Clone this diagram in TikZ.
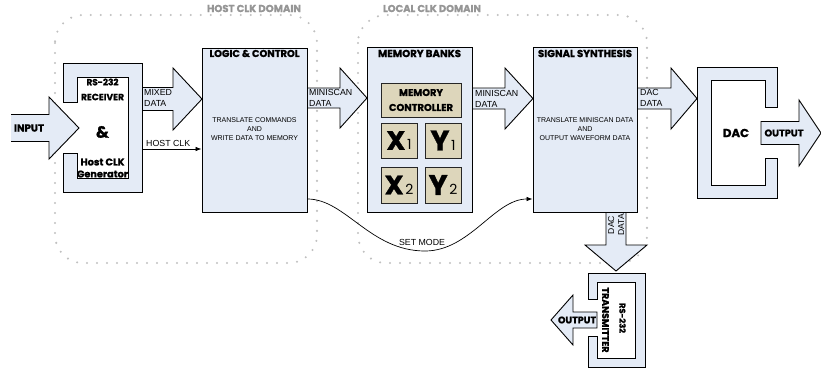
\documentclass[tikz,border=0pt]{standalone}
\usepackage{graphicx}
\usepackage{fontspec}
\setmainfont{Liberation Sans}
\newfontfamily\geofont{Poppins}[BoldFeatures={FakeBold=1.2}]
\usetikzlibrary{arrows.meta}

\definecolor{boxblue}{RGB}{228,235,246}
\definecolor{boxtan}{RGB}{221,214,187}
\definecolor{dotgray}{RGB}{192,192,192}
\definecolor{domgray}{RGB}{150,150,150}

% heavy geometric lettering set to a given width (in pt)
\newcommand\fw[2]{\resizebox{#1pt}{!}{\geofont\bfseries\fontsize{10}{12}\selectfont #2}}
% bank letter with its index
\newcommand\bank[2]{\fw{19}{#1}\,{\geofont\fontsize{14}{14}\selectfont #2}}

% right-pointing block arrow: tail x, neck x, tip x, mid y, body half, head half
\newcommand\harrow[6]{%
  \filldraw[frame] (#1,{#4-#5}) -- (#2,{#4-#5}) -- (#2,{#4-#6}) -- (#3,#4)
    -- (#2,{#4+#6}) -- (#2,{#4+#5}) -- (#1,{#4+#5});}

\begin{document}
\begin{tikzpicture}[x=1pt,y=-1pt,
  frame/.style={draw=black,line width=0.9pt,fill=boxblue,line join=miter},
  block/.style={draw=black,line width=0.9pt,fill=boxblue,inner sep=0pt},
  bankbox/.style={draw=black!85,line width=0.9pt,fill=boxtan,inner sep=0pt},
  clkdomain/.style={draw=dotgray,line width=2.3pt,line cap=round,
    dash pattern=on 0pt off 10pt,rounded corners=28pt},
  domlabel/.style={text=domgray,inner sep=0pt},
  geo/.style={inner sep=0pt,align=center},
  bodytxt/.style={align=center,inner sep=0pt,font=\fontsize{7}{9}\selectfont},
  lbl/.style={align=left,inner sep=0pt,font=\fontsize{8.8}{11}\selectfont},
  conn/.style={line width=0.7pt,-{Latex[length=6pt,width=4.5pt]}},
]
\useasboundingbox (0,0) rectangle (821,369);

% clock domains
\draw[clkdomain] (55,15) rectangle (317,263);
\draw[clkdomain] (358,15) rectangle (647,263);
\node[domlabel] (hostdom) at (254,8.5) {\fw{94}{HOST CLK DOMAIN}};
\node[domlabel] (localdom) at (432,8.5) {\fw{98}{LOCAL CLK DOMAIN}};

% block arrows between stages
\filldraw[frame] (11,114.5) -- (49,114.5) -- (49,97) -- (79,128) -- (49,159) -- (49,141.5) -- (11,141.5);
\harrow{142}{173}{202}{99}{11.5}{31}
\harrow{307}{340}{367}{98}{10}{30}
\harrow{472}{505}{533}{98.5}{10.5}{30.5}
\harrow{637}{671}{697}{98.5}{10.5}{30.5}
\filldraw[frame] (606,212) -- (606,245) -- (585,245) -- (616,271) -- (647,245) -- (626,245) -- (626,212);

% RS-232 receiver
\filldraw[frame] (77,102) -- (63,102) -- (63,63) -- (142,63) -- (142,192) -- (63,192)
  -- (63,153) -- (77,153) -- (77,178) -- (128,178) -- (128,77) -- (77,77) -- cycle;
\node[inner sep=0pt,minimum width=79pt,minimum height=129pt] (recv) at (102.5,127.5) {};
\node[geo] (rxa) at (102.5,82) {\fw{32}{RS-232}};
\node[geo] (rxb) at (102.5,97) {\fw{43}{RECEIVER}};
\node[geo] (rxc) at (102.5,132) {\fw{13}{\&}};
\node[geo] (rxd) at (102.5,162) {\fw{44}{Host CLK}};
\node[geo] (rxe) at (102.5,174) {\fw{51}{Generator}};
\node[geo] (inlbl) at (29,128) {\fw{30}{INPUT}};

% processing stages
\node[block,minimum width=105pt,minimum height=164pt] (logic) at (254.5,130) {};
\node[geo] (logict) at (254.5,53.5) {\fw{90}{LOGIC \& CONTROL}};
\node[bodytxt] (logicb) at (254.5,129) {TRANSLATE COMMANDS\\AND\\WRITE DATA TO MEMORY};

\node[block,minimum width=105pt,minimum height=165pt] (mem) at (419.5,129.5) {};
\node[geo] (memt) at (419.5,53.5) {\fw{83}{MEMORY BANKS}};
\node[bankbox,minimum width=80pt,minimum height=34pt,align=center] (mctl) at (421,100) {\fw{44}{MEMORY}\\[3pt]\fw{64}{CONTROLLER}};
\node[bankbox,minimum width=36pt,minimum height=35pt] (x1) at (399,140.5) {\bank{X}{1}};
\node[bankbox,minimum width=36pt,minimum height=35pt] (y1) at (443,140.5) {\bank{Y}{1}};
\node[bankbox,minimum width=36pt,minimum height=36pt] (x2) at (399,185) {\bank{X}{2}};
\node[bankbox,minimum width=36pt,minimum height=36pt] (y2) at (443,185) {\bank{Y}{2}};

\node[block,minimum width=104pt,minimum height=165pt] (sig) at (585,129.5) {};
\node[geo] (sigt) at (585,53.5) {\fw{94}{SIGNAL SYNTHESIS}};
\node[bodytxt] (sigb) at (585,129) {TRANSLATE MINISCAN DATA\\AND\\OUTPUT WAVEFORM DATA};

% DAC
\filldraw[frame] (765,107) -- (777,107) -- (777,67) -- (697,67) -- (697,198) -- (777,198)
  -- (777,158) -- (765,158) -- (765,185) -- (711,185) -- (711,80) -- (765,80) -- cycle;
\node[geo] (dac) at (736,133) {\fw{26}{DAC}};
\filldraw[frame] (761,121.5) -- (799,121.5) -- (799,100) -- (821,133) -- (799,166) -- (799,144.5) -- (761,144.5) -- cycle;
\node[geo] (dacout) at (784,133) {\fw{39}{OUTPUT}};

% RS-232 transmitter
\filldraw[frame] (597,299) -- (588,299) -- (588,273) -- (645,273) -- (645,367) -- (588,367)
  -- (588,336) -- (597,336) -- (597,358) -- (635,358) -- (635,282) -- (597,282) -- cycle;
\node[geo,rotate=-90] (txa) at (622.5,318) {\fw{30}{RS-232}};
\node[geo,rotate=-90] (txb) at (605.5,320) {\fw{65}{TRANSMITTER}};
\filldraw[frame] (597,312) -- (573,312) -- (573,295) -- (551,320) -- (573,345) -- (573,328) -- (597,328) -- cycle;
\node[geo] (txout) at (577,320) {\fw{38}{OUTPUT}};

% arrow labels
\node[lbl,anchor=west] (mixl) at (144,98) {MIXED\\DATA};
\node[lbl,anchor=west] (ms1l) at (309,97.5) {MINISCAN\\DATA};
\node[lbl,anchor=west] (ms2l) at (475,98.5) {MINISCAN\\DATA};
\node[lbl,anchor=west] (dacl) at (640,97.5) {DAC\\DATA};
\node[lbl,rotate=90,align=center,font=\fontsize{8.6}{10}\selectfont] (dacvl) at (616,225) {DAC\\DATA};

% control connections
\coordinate (hcy) at (0,149);
\coordinate (smy) at (0,199);
\coordinate (smlow) at (425,251);
\draw[conn] (recv.east |- hcy) -- (logic.west |- hcy);
\node[lbl,anchor=west] (hcl) at (146,143.5) {HOST CLK};
\draw[conn] (logic.east |- smy) .. controls +(38,0) and +(-55,0) .. (smlow)
  .. controls +(45,0) and +(-38,0) .. (sig.west |- smy);
\node[lbl] (sml) at (422,242) {SET MODE};
\end{tikzpicture}
\end{document}
